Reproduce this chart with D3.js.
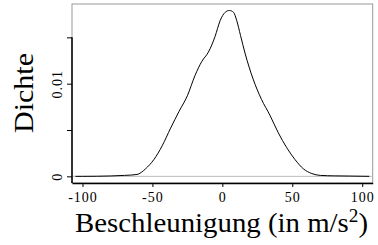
<!DOCTYPE html>
<html>
<head>
<meta charset="utf-8">
<script src="https://cdn.jsdelivr.net/npm/d3@7"></script>
<style>
  body { margin: 0; background: #fff; }
  svg { display: block; }
  text { font-family: "Liberation Serif", "DejaVu Serif", serif; fill: #000; }
</style>
</head>
<body>
<script>
// density estimate
const accel = [-105, -100, -90, -80, -70, -61, -55, -49, -43, -37, -31, -25, -19.5, -14.7, -10, -5.2, -1.6, 2, 5, 8, 10.3, 13, 16.2, 22, 28, 34, 40, 46, 52, 58, 64, 70, 80, 91, 100, 105];
const density = [0, 0, 0.00001, 0.00004, 0.0001, 0.0002, 0.0008, 0.0018, 0.0033, 0.0052, 0.007, 0.0087, 0.0109, 0.0124, 0.0134, 0.0151, 0.0168, 0.0177, 0.0179, 0.0177, 0.0168, 0.0152, 0.0133, 0.0105, 0.0083, 0.0066, 0.0047, 0.0031, 0.0018, 0.0008, 0.0003, 0.0001, 0.00005, 0.00003, 0.00001, 0];
const xTicks = [-100, -50, 0, 50, 100];
const yTicks = [0, 0.005, 0.01, 0.015];
const yLabels = { 0: "0", 0.01: "0.01" };

const W = 378, H = 245;
const mLeft = 72, mRight = 372.7, mTop = 4, mBottom = 183;

const svg = d3.select("body").append("svg")
  .attr("width", W)
  .attr("height", H);

const x = d3.scaleLinear().domain([-107.5, 107.5]).range([mLeft, mRight]);
const y = d3.scaleLinear().domain([-0.00072, 0.0186]).range([mBottom, mTop]);

// box (gray) on top / right
svg.append("rect")
  .attr("x", mLeft).attr("y", mTop)
  .attr("width", mRight - mLeft).attr("height", mBottom - mTop)
  .attr("fill", "none")
  .attr("stroke", "#999")
  .attr("stroke-width", 1);

// zero line
svg.append("line")
  .attr("x1", mLeft).attr("x2", mRight)
  .attr("y1", y(0)).attr("y2", y(0))
  .attr("stroke", "#bbb")
  .attr("stroke-width", 1);

// curve
const pts = accel.map((a, i) => [a, density[i]]);
svg.append("path")
  .datum(pts)
  .attr("fill", "none")
  .attr("stroke", "#000")
  .attr("stroke-width", 1)
  .attr("d", d3.line().x(d => x(d[0])).y(d => y(d[1])).curve(d3.curveMonotoneX));

// x axis
const xAxis = svg.append("g")
  .attr("transform", "translate(0," + mBottom + ")")
  .call(d3.axisBottom(x).tickValues(xTicks).tickSize(4).tickPadding(5)
    .tickFormat(d => String(d)).tickSizeOuter(0))
  .attr("font-family", null)
  .attr("font-size", null);
xAxis.select(".domain").attr("stroke-width", 1.5);
xAxis.selectAll("text")
  .style("font-size", "14px")
  .style("letter-spacing", "1px");

// y axis
const yAxis = svg.append("g")
  .attr("transform", "translate(" + mLeft + ",0)")
  .call(d3.axisLeft(y).tickValues(yTicks).tickSize(5).tickFormat(d => yLabels[d] || "").tickSizeOuter(0))
  .attr("font-family", null)
  .attr("font-size", null);
yAxis.select(".domain")
  .attr("d", "M0," + y(0.015) + "V" + mBottom)
  .attr("stroke-width", 1.5);
yAxis.selectAll(".tick text")
  .attr("x", null)
  .attr("text-anchor", "middle")
  .attr("transform", "translate(-14,0) rotate(-90)")
  .attr("dy", "0.32em")
  .style("font-size", "14px")
  .style("letter-spacing", "1px");

// axis titles
const xt = svg.append("text")
  .attr("x", 75)
  .attr("y", 232)
  .attr("textLength", 293)
  .attr("lengthAdjust", "spacingAndGlyphs")
  .style("font-size", "27px");
xt.append("tspan").text("Beschleunigung (in m/s");
xt.append("tspan").attr("dy", -10).style("font-size", "18px").text("2");
xt.append("tspan").attr("dy", 10).text(")");

svg.append("text")
  .attr("transform", "translate(33,133) rotate(-90)")
  .attr("textLength", 80)
  .attr("lengthAdjust", "spacingAndGlyphs")
  .style("font-size", "28px")
  .text("Dichte");
</script>
</body>
</html>
